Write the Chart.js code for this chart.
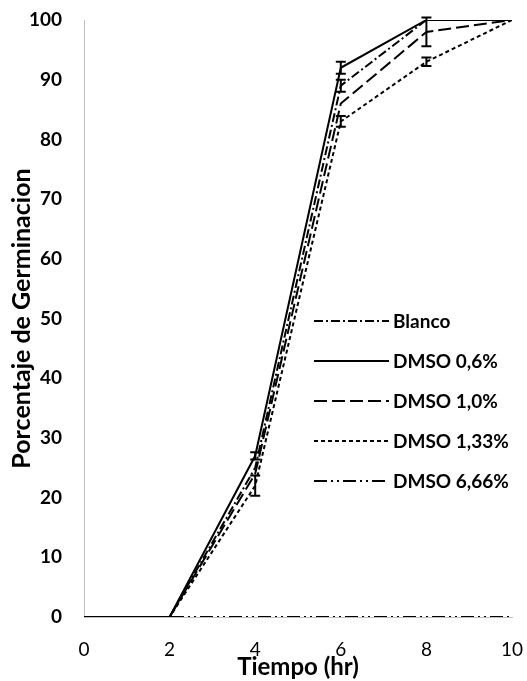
<!DOCTYPE html>
<html>
<head>
<meta charset="utf-8">
<script src="https://cdn.jsdelivr.net/npm/chart.js@4"></script>
<style>
html,body{margin:0;padding:0;background:#fff;}
#wrap{width:527px;height:681px;position:relative;}
</style>
</head>
<body>
<div id="wrap"><canvas id="c" width="527" height="681"></canvas></div>
<script>
const hours = [0, 2, 4, 6, 8, 10];
const seriesNames = ["Blanco", "DMSO 0,6%", "DMSO 1,0%", "DMSO 1,33%", "DMSO 6,66%"];
const blanco = [0, 0, 25, 89, 100, 100];
const dmso06 = [0, 0, 27, 92, 100, 100];
const dmso10 = [0, 0, 24, 86, 98, 100];
const dmso133 = [0, 0, 22, 83, 93, 100];
const dmso666 = [0, 0, 0, 0, 0, 0];
const errBlanco = [0, 0, 0, 1, 0, 0];
const err06 = [0, 0, 0.6, 1, 0, 0];
const err10 = [0, 0, 0, 0, 2.4, 0];
const err133 = [0, 0, 1.7, 0.9, 0.7, 0];
const err666 = [0, 0, 0, 0, 0, 0];
const xTicks = [0, 2, 4, 6, 8, 10];
const yTicks = [0, 10, 20, 30, 40, 50, 60, 70, 80, 90, 100];

const seriesValues = [blanco, dmso06, dmso10, dmso133, dmso666];
const seriesErr = [errBlanco, err06, err10, err133, err666];
const dashes = [[9,3,2,3], [], [13,5], [4,3], [13,4,2,4,2,4]];
const FONT = 'Lato, "Liberation Sans", sans-serif';

const datasets = seriesNames.map((n, i) => ({
  label: n,
  data: hours.map((h, j) => ({x: h, y: seriesValues[i][j]})),
  err: seriesErr[i],
  borderColor: '#000',
  borderWidth: 2,
  borderDash: dashes[i],
  pointRadius: 0,
  fill: false,
  tension: 0
}));

const errorBars = {
  id: 'errorBars',
  afterDatasetsDraw(chart) {
    const ctx = chart.ctx;
    const xs = chart.scales.x, ys = chart.scales.y;
    ctx.save();
    ctx.strokeStyle = '#000';
    ctx.lineWidth = 2;
    ctx.setLineDash([]);
    chart.data.datasets.forEach(ds => {
      ds.data.forEach((p, j) => {
        const e = ds.err[j];
        if (!e) return;
        const px = xs.getPixelForValue(p.x);
        const top = ys.getPixelForValue(p.y + e);
        const bot = ys.getPixelForValue(p.y - e);
        ctx.beginPath();
        ctx.moveTo(px, top); ctx.lineTo(px, bot);
        ctx.moveTo(px - 5, top); ctx.lineTo(px + 5, top);
        ctx.moveTo(px - 5, bot); ctx.lineTo(px + 5, bot);
        ctx.stroke();
      });
    });
    ctx.restore();
  }
};

const customLegend = {
  id: 'customLegend',
  afterDraw(chart) {
    const ctx = chart.ctx;
    ctx.save();
    const x0 = 314, x1 = 389, y0 = 321, step = 40;
    ctx.font = 'bold 19px ' + FONT;
    ctx.textBaseline = 'middle';
    ctx.fillStyle = '#000';
    chart.data.datasets.forEach((ds, i) => {
      const y = y0 + i * step;
      ctx.strokeStyle = '#000';
      ctx.lineWidth = 2;
      ctx.setLineDash(ds.borderDash);
      ctx.beginPath();
      ctx.moveTo(x0, y); ctx.lineTo(x1, y);
      ctx.stroke();
      ctx.setLineDash([]);
      ctx.fillText(ds.label, x1 + 4, y + 1);
    });
    ctx.restore();
  }
};

new Chart(document.getElementById('c'), {
  type: 'line',
  data: { datasets },
  options: {
    responsive: false,
    animation: false,
    layout: { padding: { left: 0, right: 15, top: 20, bottom: 0 } },
    plugins: {
      legend: { display: false },
      tooltip: { enabled: false }
    },
    scales: {
      x: {
        type: 'linear',
        min: 0, max: 10,
        afterBuildTicks: s => { s.ticks = xTicks.map(v => ({value: v})); },
        afterFit: s => { s.height = 64; s.paddingLeft = 0; s.paddingRight = 0; },
        grid: { display: false, drawTicks: false },
        border: { color: '#bfbfbf', width: 1 },
        ticks: { color: '#000', padding: 21, maxRotation: 0, font: { family: FONT, size: 19 } },
        title: { display: true, text: 'Tiempo (hr)', color: '#000', padding: { top: 0, bottom: -1 },
                 font: { family: FONT, size: 24, weight: 'bold' } }
      },
      y: {
        min: 0, max: 100,
        afterBuildTicks: s => { s.ticks = yTicks.map(v => ({value: v})); },
        afterFit: s => { s.width = 84; s.paddingTop = 0; s.paddingBottom = 0; },
        grid: { display: false, drawTicks: false },
        border: { color: '#bfbfbf', width: 1 },
        ticks: { color: '#000', padding: 22, font: { family: FONT, size: 19, weight: 'bold' } },
        title: { display: true, text: 'Porcentaje de Germinacion', color: '#000', padding: { top: 7, bottom: 0 },
                 font: { family: FONT, size: 25, weight: 'bold' } }
      }
    }
  },
  plugins: [errorBars, customLegend]
});
</script>
</body>
</html>
